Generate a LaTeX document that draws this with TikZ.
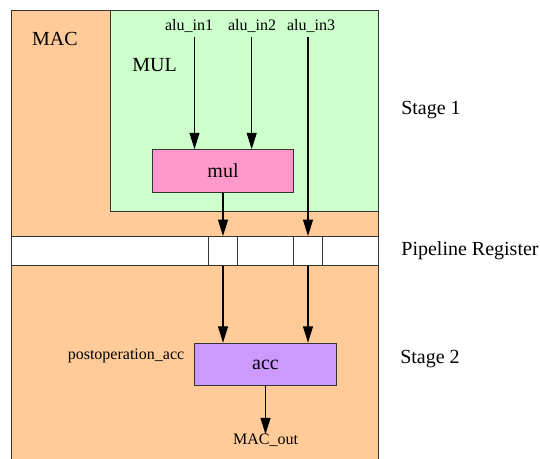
\documentclass[tikz,border=0pt]{standalone}
\usepackage{fontspec}
\setmainfont{Liberation Serif}
\usepackage{tikz}
\usetikzlibrary{arrows.meta, positioning}

\definecolor{macfill}{HTML}{FFCC99}
\definecolor{mulfill}{HTML}{CCFFCC}
\definecolor{mulbox}{HTML}{FF99CC}
\definecolor{accbox}{HTML}{CC99FF}
\definecolor{edge}{HTML}{333333}

\begin{document}
\begin{tikzpicture}[
    x=0.5pt, y=-0.5pt,                 % <── one unit = one pixel of the sketch
    block/.style={rectangle, draw=edge, line width=0.5pt, inner sep=0pt},
    unit_box/.style={block, minimum width=70.7pt, minimum height=21.3pt, font=\fontsize{10}{12}\selectfont},
    reg_cell/.style={block, fill=white, minimum width=14.3pt, minimum height=14.25pt},
    big_lbl/.style={inner sep=0pt, font=\fontsize{10}{12}\selectfont},
    small_lbl/.style={inner sep=0pt, font=\fontsize{8}{10}\selectfont},
    arr/.style={-{Triangle[length=8.2pt, width=5pt]}, draw=black, line width=0.55pt}
    ]
    \useasboundingbox (0,0) rectangle (540,459);
    \clip (0,0) rectangle (540,459);

    % Enclosing blocks
    \node[block, fill=macfill, minimum width=183.5pt, minimum height=240pt, anchor=north west] (mac) at (11,10) {};
    \node[block, fill=mulfill, minimum width=134.2pt, minimum height=100.4pt, anchor=north west] (mulblk) at (110,10) {};
    \node[big_lbl] (maclbl) at (55,39) {MAC};
    \node[big_lbl] (mullbl) at (154.5,65) {MUL};

    % Functional units
    \node[unit_box, fill=mulbox] (mul) at (223,171) {mul};
    \node[unit_box, fill=accbox] (acc) at (265.5,364.5) {acc};

    % Pipeline register
    \node[block, fill=white, minimum width=183.5pt, minimum height=14.25pt] (preg) at (194.5,250.8) {};
    \node[reg_cell] (cell1) at (223,250.8) {};
    \node[reg_cell] (cell2) at (308,250.8) {};

    % Signal names
    \node[small_lbl] (in1) at (189,26) {alu\_in1};
    \node[small_lbl] (in2) at (252,26) {alu\_in2};
    \node[small_lbl] (in3) at (311,26) {alu\_in3};
    \node[small_lbl] (post) at (126,356) {postoperation\_acc};
    \node[small_lbl] (macout) at (265.5,440) {MAC\_out};
    \coordinate (in1top) at (194.5,37.5);
    \coordinate (in2top) at (251.7,37.5);
    \coordinate (in3top) at (308,37.5);

    % Stage names
    \node[big_lbl] (st1) at (431,110) {Stage 1};
    \node[big_lbl] (pr) at (470,251) {Pipeline Register};
    \node[big_lbl] (st2) at (430,359) {Stage 2};

    % Arrows
    \draw[arr] (in1top) -- (in1top |- mul.north);
    \draw[arr] (in2top) -- (in2top |- mul.north);
    \draw[arr] (in3top) -- (cell2.north);
    \draw[arr] (mul.south -| cell1) -- (cell1.north);
    \draw[arr] (cell1.south) -- (cell1.south |- acc.north);
    \draw[arr] (cell2.south) -- (cell2.south |- acc.north);
    \draw[arr] (acc.south) -- ([yshift=-0.5pt]macout.north);
\end{tikzpicture}
\end{document}
